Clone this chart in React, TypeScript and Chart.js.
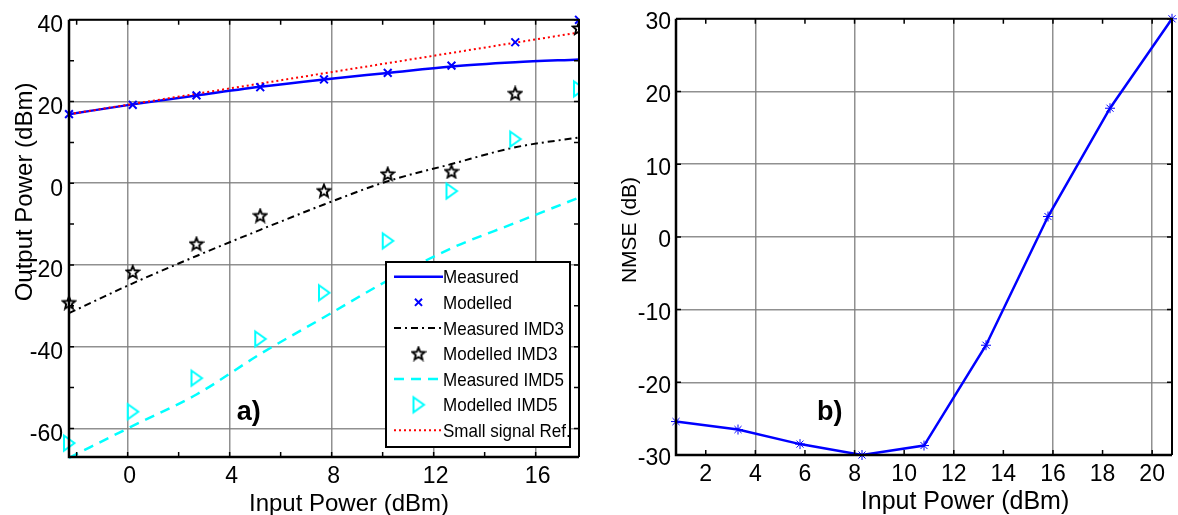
import React, { useEffect, useRef } from 'react';
import { Chart, registerables } from 'chart.js';
import { drawPoint } from 'chart.js/helpers';

Chart.register(...registerables);

// ---------------- data (panel a) ----------------
const inputPowerA = [-2.3, 0.2, 2.7, 5.2, 7.7, 10.2, 12.7, 15.2, 17.7];
const measured = [16.9, 19.3, 21.5, 23.6, 25.4, 27.0, 28.6, 29.6, 30.3];
const modelled = [16.9, 19.2, 21.5, 23.5, 25.4, 27.0, 28.8, 34.5, 40.0];
const measuredIMD3 = [-31.8, -24.5, -17.8, -11.4, -5.2, 0.5, 4.7, 8.8, 11.2];
const modelledIMD3 = [-29.2, -21.7, -14.8, -7.9, -1.8, 2.3, 2.9, 22.0, 38.0];
const measuredIMD5 = [-67.2, -59.4, -51.7, -41.8, -32.8, -23.8, -15.9, -9.7, -3.5];
const modelledIMD5 = [-63.6, -55.9, -47.7, -38.1, -26.8, -14.1, -1.9, 10.8, 23.1];
const smallSignalRef = [16.9, 19.4, 21.9, 24.4, 26.9, 29.4, 31.9, 34.4, 36.9];
const legendLabelsA = ['Measured', 'Modelled', 'Measured IMD3', 'Modelled IMD3', 'Measured IMD5', 'Modelled IMD5', 'Small signal Ref.'];

const leftXTicks = [-2, 0, 2, 4, 6, 8, 10, 12, 14, 16];
const leftXLabelled = [0, 4, 8, 12, 16];
const leftYTicks = [-60, -50, -40, -30, -20, -10, 0, 10, 20, 30, 40];
const leftYLabelled = [-60, -40, -20, 0, 20, 40];

// ---------------- data (panel b) ----------------
const inputPowerB = [0.8, 3.3, 5.8, 8.3, 10.8, 13.3, 15.8, 18.3, 20.8];
const nmse = [-25.4, -26.5, -28.5, -30.0, -28.7, -14.9, 2.8, 17.7, 30.0];

const rightXTicks = [2, 4, 6, 8, 10, 12, 14, 16, 18, 20];
const rightXGrid = [4, 8, 12, 16, 20];
const rightYTicks = [-30, -20, -10, 0, 10, 20, 30];

const FONT = '"Liberation Sans", Arial, Helvetica, sans-serif';
const GRID = 'rgba(125,125,125,0.85)';
const BLUE = '#0000ff';
const CYAN = '#00ffff';
const RED = '#ff0000';

function zip(xs: number[], ys: number[]) {
  return xs.map((x, i) => ({ x, y: ys[i] }));
}

function makeStarImage(): HTMLCanvasElement {
  const c = document.createElement('canvas');
  c.width = 16;
  c.height = 16;
  const g = c.getContext('2d')!;
  g.beginPath();
  for (let k = 0; k < 10; k++) {
    const r = k % 2 === 0 ? 6.6 : 2.9;
    const ang = -Math.PI / 2 + (k * Math.PI) / 5;
    const px = 8 + r * Math.cos(ang);
    const py = 8.6 + r * Math.sin(ang);
    if (k === 0) g.moveTo(px, py);
    else g.lineTo(px, py);
  }
  g.closePath();
  g.strokeStyle = '#000';
  g.lineWidth = 1.9;
  g.stroke();
  return c;
}

function makeTriangleImage(): HTMLCanvasElement {
  const c = document.createElement('canvas');
  c.width = 16;
  c.height = 20;
  const g = c.getContext('2d')!;
  g.beginPath();
  g.moveTo(3, 2.5);
  g.lineTo(13.5, 10);
  g.lineTo(3, 17.5);
  g.closePath();
  g.strokeStyle = CYAN;
  g.lineWidth = 2;
  g.stroke();
  return c;
}

type TextSpec = { text: string; x: number; y: number; size: number; rotate?: boolean; bold?: boolean };

type FrameCfg = {
  titles: TextSpec[];
  annotation: TextSpec; // in data coordinates
  legend?: { left: number; top: number; right: number; bottom: number; row0: number; step: number; lineX0: number; lineX1: number; labels: string[] };
};

function makeFramePlugin(cfg: FrameCfg) {
  return {
    id: 'frame',
    afterDraw(chart: any) {
      const { ctx, chartArea: a, scales } = chart;
      const xs = scales.x;
      const ys = scales.y;
      ctx.save();
      // inward tick marks on all four sides
      ctx.strokeStyle = '#000';
      ctx.lineWidth = 1.5;
      ctx.setLineDash([]);
      const TL = 5;
      for (const t of xs.ticks) {
        const px = xs.getPixelForValue(t.value);
        if (px < a.left - 0.5 || px > a.right + 0.5) continue;
        ctx.beginPath();
        ctx.moveTo(px, a.bottom);
        ctx.lineTo(px, a.bottom - TL);
        ctx.moveTo(px, a.top);
        ctx.lineTo(px, a.top + TL);
        ctx.stroke();
      }
      for (const t of ys.ticks) {
        const py = ys.getPixelForValue(t.value);
        if (py < a.top - 0.5 || py > a.bottom + 0.5) continue;
        ctx.beginPath();
        ctx.moveTo(a.left, py);
        ctx.lineTo(a.left + TL, py);
        ctx.moveTo(a.right, py);
        ctx.lineTo(a.right - TL, py);
        ctx.stroke();
      }
      // box
      ctx.lineWidth = 2;
      ctx.beginPath();
      ctx.moveTo(a.left, a.top);
      ctx.lineTo(a.right, a.top);
      ctx.lineTo(a.right, a.bottom);
      ctx.stroke();
      ctx.lineWidth = 2.5;
      ctx.beginPath();
      ctx.moveTo(a.left, a.top);
      ctx.lineTo(a.left, a.bottom);
      ctx.lineTo(a.right, a.bottom);
      ctx.stroke();

      // panel label (data coordinates)
      const an = cfg.annotation;
      ctx.fillStyle = '#000';
      ctx.font = `bold ${an.size}px ${FONT}`;
      ctx.textAlign = 'center';
      ctx.textBaseline = 'middle';
      ctx.fillText(an.text, xs.getPixelForValue(an.x), ys.getPixelForValue(an.y));

      // axis titles
      for (const t of cfg.titles) {
        ctx.font = `${t.bold ? 'bold ' : ''}${t.size}px ${FONT}`;
        ctx.textAlign = 'center';
        ctx.textBaseline = 'alphabetic';
        if (t.rotate) {
          ctx.save();
          ctx.translate(t.x, t.y);
          ctx.rotate(-Math.PI / 2);
          ctx.fillText(t.text, 0, 0);
          ctx.restore();
        } else {
          ctx.fillText(t.text, t.x, t.y);
        }
      }

      // legend
      const lg = cfg.legend;
      if (lg) {
        ctx.fillStyle = '#fff';
        ctx.fillRect(lg.left, lg.top, lg.right - lg.left, lg.bottom - lg.top);
        ctx.strokeStyle = '#000';
        ctx.lineWidth = 2;
        ctx.setLineDash([]);
        ctx.strokeRect(lg.left, lg.top, lg.right - lg.left, lg.bottom - lg.top);
        lg.labels.forEach((label, i) => {
          const ds = chart.data.datasets.find((d: any) => d.label === label);
          const cy = lg.row0 + i * lg.step;
          if (ds.showLine !== false) {
            ctx.save();
            ctx.strokeStyle = ds.borderColor;
            ctx.lineWidth = ds.borderWidth;
            ctx.setLineDash(ds.borderDash || []);
            ctx.beginPath();
            ctx.moveTo(lg.lineX0, cy);
            ctx.lineTo(lg.lineX1, cy);
            ctx.stroke();
            ctx.restore();
          } else {
            ctx.save();
            ctx.setLineDash([]);
            ctx.strokeStyle = ds.pointBorderColor || '#000';
            ctx.fillStyle = ds.pointBackgroundColor || 'rgba(0,0,0,0)';
            ctx.lineWidth = ds.pointBorderWidth || 1;
            drawPoint(ctx, { pointStyle: ds.pointStyle, rotation: ds.pointRotation || 0, radius: ds.legendRadius || ds.pointRadius, borderWidth: ds.pointBorderWidth || 1 }, (lg.lineX0 + lg.lineX1) / 2, cy);
            ctx.restore();
          }
          ctx.save();
          ctx.fillStyle = '#000';
          ctx.font = `18.5px ${FONT}`;
          ctx.textAlign = 'left';
          ctx.textBaseline = 'alphabetic';
          ctx.translate(lg.lineX1, cy + 6.6);
          ctx.scale(0.92, 1);
          ctx.fillText(label, 0, 0);
          ctx.restore();
        });
      }
      ctx.restore();
    },
  };
}

function tickFont(size: number) {
  return { size, family: FONT };
}

export default function App() {
  const leftRef = useRef<HTMLCanvasElement>(null);
  const rightRef = useRef<HTMLCanvasElement>(null);

  useEffect(() => {
    const starImg = makeStarImage();
    const triImg = makeTriangleImage();

    const left = new Chart(leftRef.current!, {
      type: 'line',
      data: {
        datasets: [
          { label: 'Measured', data: zip(inputPowerA, measured), borderColor: BLUE, borderWidth: 2.5, pointRadius: 0, cubicInterpolationMode: 'monotone', order: 4 },
          { label: 'Modelled', data: zip(inputPowerA, modelled), showLine: false, pointStyle: 'crossRot', pointRadius: 5.5, pointBorderWidth: 2, pointBorderColor: BLUE, pointBackgroundColor: BLUE, legendRadius: 5, order: 1 },
          { label: 'Measured IMD3', data: zip(inputPowerA, measuredIMD3), borderColor: '#000', borderWidth: 2, borderDash: [7, 4, 2, 4], pointRadius: 0, cubicInterpolationMode: 'monotone', order: 5 },
          { label: 'Modelled IMD3', data: zip(inputPowerA, modelledIMD3), showLine: false, pointStyle: starImg, pointRadius: 7, pointBorderWidth: 1, order: 2 },
          { label: 'Measured IMD5', data: zip(inputPowerA, measuredIMD5), borderColor: CYAN, borderWidth: 2.5, borderDash: [10, 7], pointRadius: 0, cubicInterpolationMode: 'monotone', order: 6 },
          { label: 'Modelled IMD5', data: zip(inputPowerA, modelledIMD5), showLine: false, pointStyle: triImg, pointRadius: 8, pointBorderWidth: 1, order: 2 },
          { label: 'Small signal Ref.', data: zip(inputPowerA, smallSignalRef), borderColor: RED, borderWidth: 2, borderDash: [2, 3], pointRadius: 0, order: 3 },
        ] as any,
      },
      options: {
        animation: false,
        responsive: false,
        devicePixelRatio: 1,
        clip: { left: 10, top: 10, right: 0, bottom: 10 } as any,
        layout: { padding: { left: 0, top: 16, right: 11, bottom: 0 } },
        plugins: { legend: { display: false }, tooltip: { enabled: false }, title: { display: false } },
        scales: {
          x: {
            type: 'linear',
            min: -2.3,
            max: 17.7,
            afterBuildTicks: (s: any) => { s.ticks = leftXTicks.map((v) => ({ value: v })); },
            afterFit: (s: any) => { s.height = 58; },
            grid: { color: (c: any) => (c.tick && leftXLabelled.includes(c.tick.value) ? GRID : 'rgba(0,0,0,0)'), lineWidth: 1.5, drawTicks: false },
            border: { display: false },
            ticks: { autoSkip: false, maxRotation: 0, padding: 6, labelOffset: 2, color: '#000', font: tickFont(23), callback: (v: any) => (leftXLabelled.includes(v) ? String(v) : '') },
          },
          y: {
            type: 'linear',
            min: -67,
            max: 40,
            afterBuildTicks: (s: any) => { s.ticks = leftYTicks.map((v) => ({ value: v })); },
            afterFit: (s: any) => { s.width = 69; },
            grid: { color: (c: any) => (c.tick && leftYLabelled.includes(c.tick.value) ? GRID : 'rgba(0,0,0,0)'), lineWidth: 1.5, drawTicks: false },
            border: { display: false },
            ticks: { autoSkip: false, padding: 6, labelOffset: 6, color: '#000', font: tickFont(23), callback: (v: any) => (leftYLabelled.includes(v) ? String(v) : '') },
          },
        },
      } as any,
      plugins: [
        makeFramePlugin({
          titles: [
            { text: 'Input Power (dBm)', x: 349, y: 511, size: 24 },
            { text: 'Output Power (dBm)', x: 31.5, y: 192, size: 24, rotate: true },
          ],
          annotation: { text: 'a)', x: 4.75, y: -56, size: 27 },
          legend: { left: 386, top: 262, right: 570, bottom: 447, row0: 276.7, step: 25.6, lineX0: 394, lineX1: 443, labels: legendLabelsA },
        }),
      ],
    });

    const right = new Chart(rightRef.current!, {
      type: 'line',
      data: {
        datasets: [
          { label: 'NMSE', data: zip(inputPowerB, nmse), borderColor: BLUE, borderWidth: 2.5, pointStyle: 'star', pointRadius: 5, pointBorderWidth: 1, pointBorderColor: BLUE, pointBackgroundColor: BLUE, tension: 0 },
        ] as any,
      },
      options: {
        animation: false,
        responsive: false,
        devicePixelRatio: 1,
        clip: false as any,
        layout: { padding: { left: 0, top: 16, right: 1, bottom: 0 } },
        plugins: { legend: { display: false }, tooltip: { enabled: false }, title: { display: false } },
        scales: {
          x: {
            type: 'linear',
            min: 0.8,
            max: 20.8,
            afterBuildTicks: (s: any) => { s.ticks = rightXTicks.map((v) => ({ value: v })); },
            afterFit: (s: any) => { s.height = 60; },
            grid: { color: (c: any) => (c.tick && rightXGrid.includes(c.tick.value) ? GRID : 'rgba(0,0,0,0)'), lineWidth: 1.5, drawTicks: false },
            border: { display: false },
            ticks: { autoSkip: false, maxRotation: 0, padding: 6, color: '#000', font: tickFont(23), callback: (v: any) => String(v) },
          },
          y: {
            type: 'linear',
            min: -30,
            max: 30,
            afterBuildTicks: (s: any) => { s.ticks = rightYTicks.map((v) => ({ value: v })); },
            afterFit: (s: any) => { s.width = 86; },
            grid: { color: GRID, lineWidth: 1.5, drawTicks: false },
            border: { display: false },
            ticks: { autoSkip: false, padding: 5, labelOffset: 4, color: '#000', font: tickFont(23), callback: (v: any) => String(v) },
          },
        },
      } as any,
      plugins: [
        makeFramePlugin({
          titles: [
            { text: 'Input Power (dBm)', x: 375, y: 509, size: 25 },
            { text: 'NMSE (dB)', x: 46, y: 230, size: 21, rotate: true },
          ],
          annotation: { text: 'b)', x: 7.0, y: -24.1, size: 27 },
        }),
      ],
    });

    return () => {
      left.destroy();
      right.destroy();
    };
  }, []);

  return (
    <div style={{ position: 'fixed', left: 0, top: 0, width: 1178, height: 515, background: '#fff' }}>
      <canvas ref={leftRef} width={590} height={515} style={{ position: 'absolute', left: 0, top: 0, width: 590, height: 515 }} />
      <canvas ref={rightRef} width={588} height={515} style={{ position: 'absolute', left: 590, top: 0, width: 588, height: 515 }} />
    </div>
  );
}
